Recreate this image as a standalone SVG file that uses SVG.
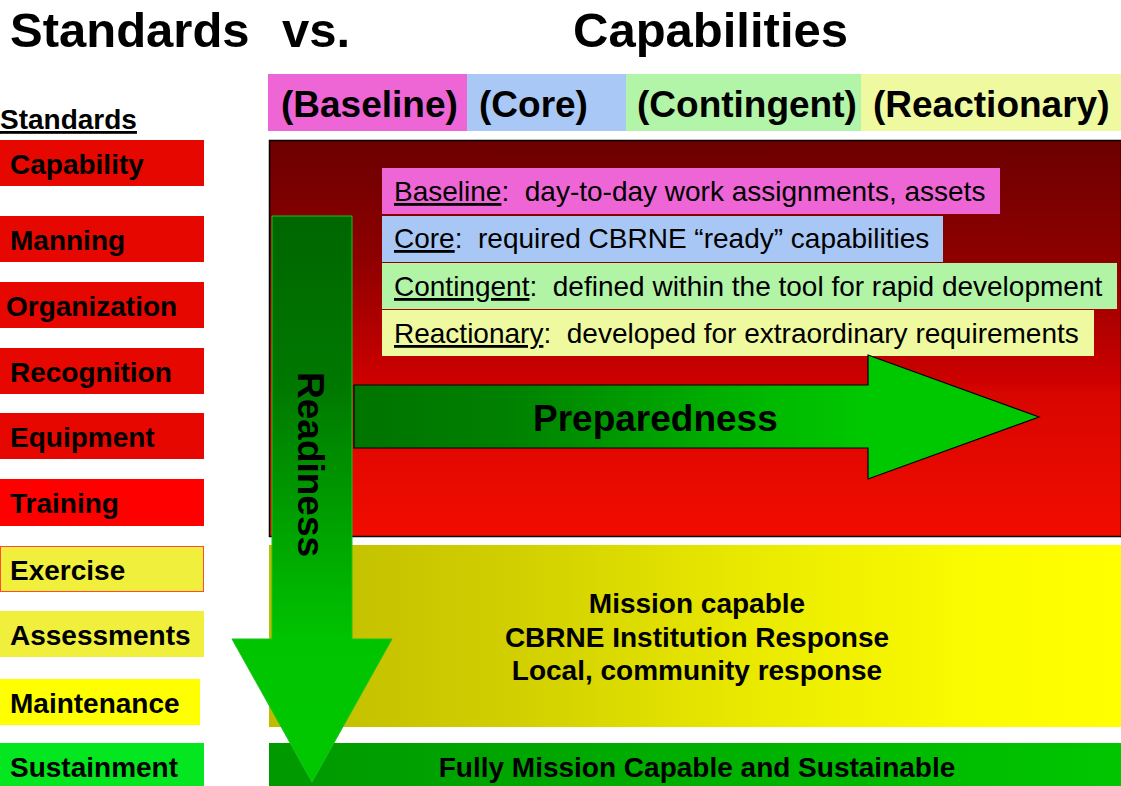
<svg xmlns="http://www.w3.org/2000/svg" width="1121" height="786" viewBox="0 0 1121 786">
  <defs>
    <linearGradient id="redField" x1="0" y1="140" x2="0" y2="537" gradientUnits="userSpaceOnUse">
      <stop offset="0" stop-color="#6c0000"/>
      <stop offset="0.3" stop-color="#8e0000"/>
      <stop offset="0.6" stop-color="#cc0000"/>
      <stop offset="0.64" stop-color="#d80600"/>
      <stop offset="1" stop-color="#f20c00"/>
    </linearGradient>
    <linearGradient id="yellowField" x1="269" y1="0" x2="1121" y2="0" gradientUnits="userSpaceOnUse">
      <stop offset="0" stop-color="#bfbb00"/>
      <stop offset="0.3" stop-color="#d2d000"/>
      <stop offset="0.6" stop-color="#ecec00"/>
      <stop offset="0.85" stop-color="#fcfc00"/>
      <stop offset="1" stop-color="#ffff00"/>
    </linearGradient>
    <linearGradient id="greenBar" x1="269" y1="0" x2="1121" y2="0" gradientUnits="userSpaceOnUse">
      <stop offset="0" stop-color="#009800"/>
      <stop offset="1" stop-color="#00c600"/>
    </linearGradient>
    <linearGradient id="prepFill" x1="354" y1="0" x2="1039" y2="0" gradientUnits="userSpaceOnUse">
      <stop offset="0" stop-color="#007400"/>
      <stop offset="0.22" stop-color="#008000"/>
      <stop offset="0.6" stop-color="#00b800"/>
      <stop offset="0.75" stop-color="#00c800"/>
      <stop offset="1" stop-color="#00c800"/>
    </linearGradient>
    <linearGradient id="readyFill" x1="0" y1="216" x2="0" y2="782" gradientUnits="userSpaceOnUse">
      <stop offset="0" stop-color="#006600"/>
      <stop offset="0.3" stop-color="#007800"/>
      <stop offset="0.6" stop-color="#00aa00"/>
      <stop offset="0.75" stop-color="#00c400"/>
      <stop offset="1" stop-color="#00c800"/>
    </linearGradient>
  </defs>
  <style>
    text { font-family: "Liberation Sans", Arial, sans-serif; fill: #000; }
    .title { font-size: 49px; font-weight: bold; }
    .hdr { font-size: 37px; font-weight: bold; }
    .std { font-size: 28px; font-weight: bold; }
    .leg { font-size: 28px; white-space: pre; }
    .big { font-size: 37px; font-weight: bold; }
    .mid { font-size: 28px; font-weight: bold; text-anchor: middle; }
    .u { text-decoration: underline; }
    .red { fill: #e60800; }
  </style>

  <!-- Titles -->
  <g id="titles">
    <text class="title" x="10" y="47">Standards</text>
    <text class="title" x="282" y="47">vs.</text>
    <text class="title" x="573" y="47">Capabilities</text>
  </g>

  <!-- Capability tiers header -->
  <g id="tier-header">
    <rect x="268" y="74" width="199" height="57" fill="#ee66d5"/>
    <rect x="467" y="74" width="159" height="57" fill="#a9c8f5"/>
    <rect x="626" y="74" width="235" height="57" fill="#b3f5a8"/>
    <rect x="861" y="74" width="260" height="57" fill="#effaa0"/>
    <text class="hdr" x="281" y="117">(Baseline)</text>
    <text class="hdr" x="479" y="117">(Core)</text>
    <text class="hdr" x="637" y="117">(Contingent)</text>
    <text class="hdr" x="873" y="117">(Reactionary)</text>
  </g>

  <!-- Standards column -->
  <g id="standards">
    <text class="std u" x="0" y="129">Standards</text>
    <g id="std-capability"><rect class="red" x="0" y="140" width="204" height="46"/><text class="std" x="10" y="174">Capability</text></g>
    <g id="std-manning"><rect class="red" x="0" y="216" width="204" height="46"/><text class="std" x="10" y="250">Manning</text></g>
    <g id="std-organization"><rect class="red" x="0" y="282" width="204" height="46"/><text class="std" x="6" y="316">Organization</text></g>
    <g id="std-recognition"><rect class="red" x="0" y="348" width="204" height="46"/><text class="std" x="10" y="382">Recognition</text></g>
    <g id="std-equipment"><rect class="red" x="0" y="413" width="204" height="46"/><text class="std" x="10" y="447">Equipment</text></g>
    <g id="std-training"><rect x="0" y="479" width="204" height="47" fill="#ff0000"/><text class="std" x="10" y="513">Training</text></g>
    <g id="std-exercise"><rect x="0.5" y="546.5" width="203" height="45" fill="#f0f03c" stroke="#ff4a3a" stroke-width="1"/><text class="std" x="10" y="580">Exercise</text></g>
    <g id="std-assessments"><rect x="0" y="611" width="204" height="46" fill="#f0f03c"/><text class="std" x="10" y="645">Assessments</text></g>
    <g id="std-maintenance"><rect x="0" y="679" width="200" height="46" fill="#ffff00"/><text class="std" x="10" y="713">Maintenance</text></g>
    <g id="std-sustainment"><rect x="0" y="743" width="204" height="43" fill="#04e620"/><text class="std" x="10" y="777">Sustainment</text></g>
  </g>

  <!-- Preparedness field (red) -->
  <g id="preparedness-field">
    <rect x="269.5" y="140.5" width="852" height="396" fill="url(#redField)" stroke="#000" stroke-width="1.5"/>
  </g>

  <!-- Tier legend -->
  <g id="legend">
    <g id="legend-baseline">
      <rect x="382" y="168" width="618" height="46" fill="#ee66d6"/>
      <text class="leg" x="394" y="201" xml:space="preserve"><tspan class="u">Baseline</tspan>:  day-to-day work assignments, assets</text>
    </g>
    <g id="legend-core">
      <rect x="382" y="216" width="561" height="46" fill="#a8c7f4"/>
      <text class="leg" x="394" y="248" xml:space="preserve"><tspan class="u">Core</tspan>:  required CBRNE “ready” capabilities</text>
    </g>
    <g id="legend-contingent">
      <rect x="382" y="263" width="735" height="46" fill="#b2f4a6"/>
      <text class="leg" x="394" y="296" xml:space="preserve"><tspan class="u">Contingent</tspan>:  defined within the tool for rapid development</text>
    </g>
    <g id="legend-reactionary">
      <rect x="382" y="310" width="712" height="46" fill="#effaa0"/>
      <text class="leg" x="394" y="343" xml:space="preserve"><tspan class="u">Reactionary</tspan>:  developed for extraordinary requirements</text>
    </g>
  </g>

  <!-- Mission capable band -->
  <g id="mission-capable">
    <rect x="269" y="545" width="852" height="182" fill="url(#yellowField)"/>
    <text class="mid" x="697" y="613">Mission capable</text>
    <text class="mid" x="697" y="647">CBRNE Institution Response</text>
    <text class="mid" x="697" y="680">Local, community response</text>
  </g>

  <!-- Fully mission capable band -->
  <g id="fully-capable">
    <rect x="269" y="743" width="852" height="43" fill="url(#greenBar)"/>
    <text class="mid" x="697" y="777">Fully Mission Capable and Sustainable</text>
  </g>

  <!-- Block arrows -->
  <g id="connectors">
    <g id="preparedness-arrow">
      <path d="M354,385 H868 V355 L1039,417 L868,479 V448 H354 Z" fill="url(#prepFill)" stroke="#000" stroke-width="1.2" stroke-linejoin="miter"/>
      <text class="big" x="533" y="431">Preparedness</text>
    </g>
    <g id="readiness-arrow">
      <path d="M272,216 H352 V639 H392 L312,782 L232,639 H272 Z" fill="url(#readyFill)" stroke="#18c418" stroke-width="1"/>
      <text class="big" transform="translate(298,372) rotate(90)" x="0" y="0">Readiness</text>
    </g>
  </g>
</svg>
